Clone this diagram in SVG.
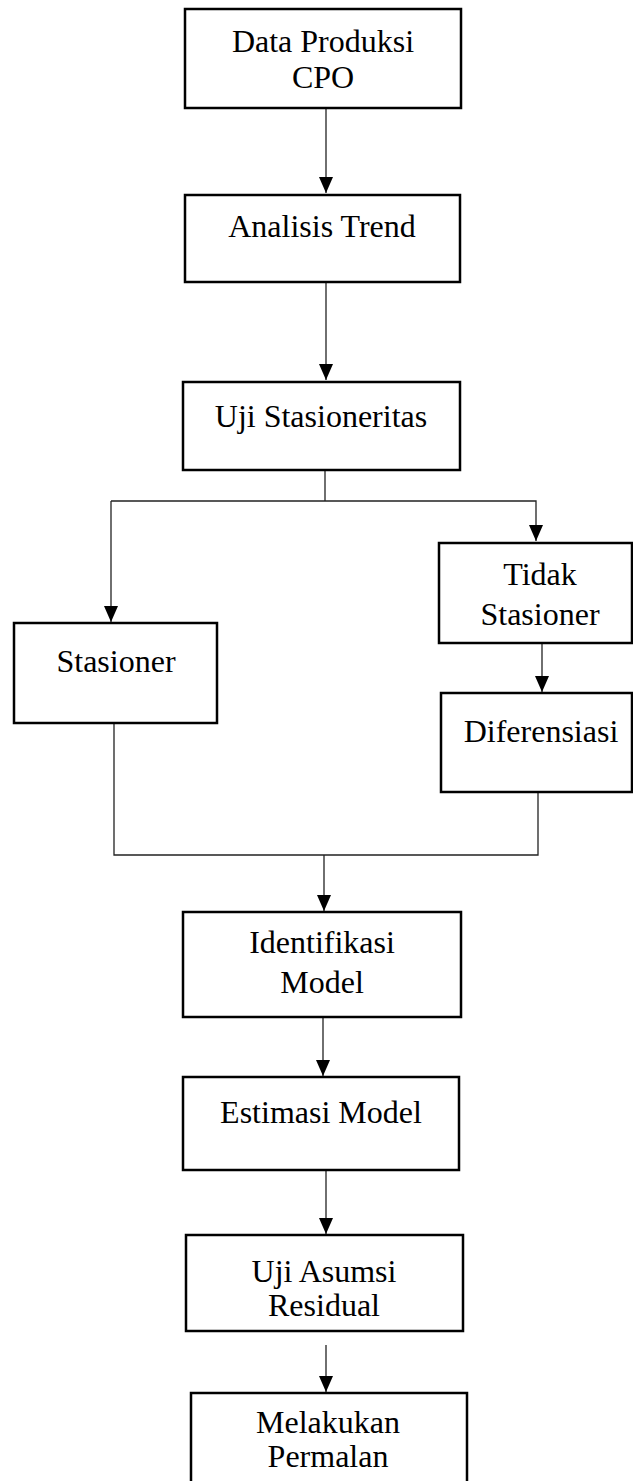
<svg xmlns="http://www.w3.org/2000/svg" width="633" height="1481" viewBox="0 0 633 1481">
<style>
.box{fill:#fff;stroke:#000;stroke-width:2.5}
.t{font-family:"Liberation Serif","Times New Roman",serif;font-size:32px;fill:#000;text-anchor:middle}
.c{fill:none;stroke:#222;stroke-width:1.3}
</style>
<defs>
<marker id="ah" markerWidth="16" markerHeight="14" refX="16" refY="7" orient="auto" markerUnits="userSpaceOnUse" viewBox="0 0 16 14">
<path d="M0,0 L16,7 L0,14 Z" fill="#000"/>
</marker>
</defs>
<rect width="633" height="1481" fill="#fff"/>
<g id="connectors">
<line class="c" x1="326" y1="108" x2="326" y2="193" marker-end="url(#ah)"/>
<line class="c" x1="326" y1="282" x2="326" y2="380" marker-end="url(#ah)"/>
<polyline class="c" points="325,470 325,501"/>
<polyline class="c" points="111,501 536,501 536,541" marker-end="url(#ah)"/>
<line class="c" x1="111" y1="501" x2="111" y2="622" marker-end="url(#ah)"/>
<line class="c" x1="542" y1="643" x2="542" y2="692" marker-end="url(#ah)"/>
<polyline class="c" points="114,723 114,855 538,855 538,792"/>
<line class="c" x1="324" y1="855" x2="324" y2="911" marker-end="url(#ah)"/>
<line class="c" x1="323" y1="1017" x2="323" y2="1076" marker-end="url(#ah)"/>
<line class="c" x1="326" y1="1170" x2="326" y2="1234" marker-end="url(#ah)"/>
<line class="c" x1="326" y1="1345" x2="326" y2="1392" marker-end="url(#ah)"/>
</g>
<g id="n1"><rect class="box" x="185" y="9" width="276" height="99"/><text class="t" x="323" y="52">Data Produksi</text><text class="t" x="323" y="88">CPO</text></g>
<g id="n2"><rect class="box" x="185" y="195" width="275" height="87"/><text class="t" x="322" y="237">Analisis Trend</text></g>
<g id="n3"><rect class="box" x="183" y="382" width="277" height="88"/><text class="t" x="321" y="427">Uji Stasioneritas</text></g>
<g id="n4"><rect class="box" x="14" y="623" width="203" height="100"/><text class="t" x="116" y="672">Stasioner</text></g>
<g id="n5"><rect class="box" x="439" y="543" width="193" height="100"/><text class="t" x="540" y="585">Tidak</text><text class="t" x="540" y="625">Stasioner</text></g>
<g id="n6"><rect class="box" x="441" y="693" width="191" height="99"/><text class="t" x="541" y="742">Diferensiasi</text></g>
<g id="n7"><rect class="box" x="183" y="912" width="278" height="105"/><text class="t" x="322" y="953">Identifikasi</text><text class="t" x="322" y="993">Model</text></g>
<g id="n8"><rect class="box" x="183" y="1077" width="276" height="93"/><text class="t" x="321" y="1123">Estimasi Model</text></g>
<g id="n9"><rect class="box" x="186" y="1235" width="277" height="96"/><text class="t" x="324" y="1282">Uji Asumsi</text><text class="t" x="324" y="1316">Residual</text></g>
<g id="n10"><rect class="box" x="191" y="1393" width="276" height="100"/><text class="t" x="328" y="1433">Melakukan</text><text class="t" x="328" y="1467">Permalan</text></g>
</svg>
